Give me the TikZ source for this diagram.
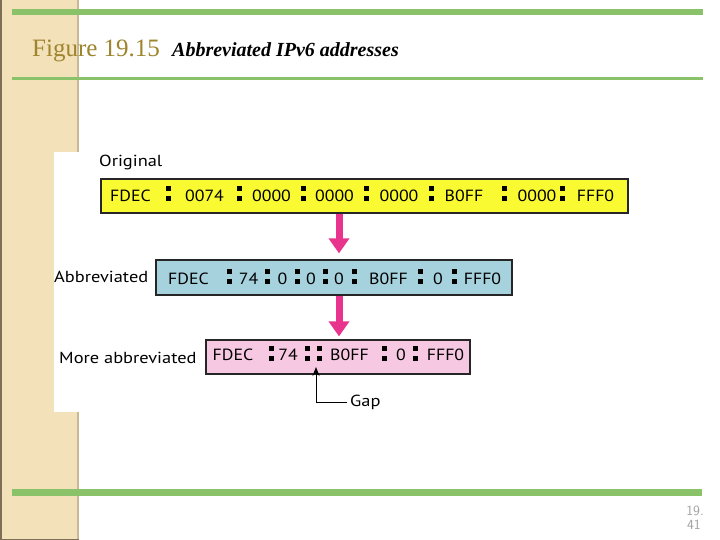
\documentclass[tikz,border=0pt]{standalone}
\usepackage{fontspec}
\setmainfont{Liberation Serif}
\newfontfamily\boxfont[FakeStretch=1.15]{PT Sans}
\newfontfamily\fieldfont[FakeStretch=1.1]{PT Sans}
\usetikzlibrary{arrows.meta}
\definecolor{beige}{RGB}{243,225,186}
\definecolor{beigeedge}{RGB}{200,185,150}
\definecolor{beigedark}{RGB}{125,110,85}
\definecolor{slidegreen}{RGB}{137,194,104}
\definecolor{titlegold}{RGB}{158,132,44}
\definecolor{boxyellow}{RGB}{250,250,50}
\definecolor{boxblue}{RGB}{166,210,222}
\definecolor{boxpink}{RGB}{247,200,226}
\definecolor{arrowpink}{RGB}{232,52,140}
\definecolor{pagegray}{RGB}{160,160,160}
\tikzset{
  addrbox/.style={draw=black!85, line width=1.3pt, inner sep=0pt, anchor=center},
  field/.style={font=\fieldfont\fontsize{16.2}{19}\selectfont, inner sep=0pt, anchor=center},
  lbl/.style={font=\boxfont\fontsize{16}{19}\selectfont, inner sep=0pt, anchor=west},
  colon/.pic={\fill (-2.5,-9.5) rectangle (2.5,-4.5); \fill (-2.5,0.5) rectangle (2.5,5.5);},
  bigarrow/.style={draw=arrowpink, line width=7pt, -{Triangle[width=20pt,length=15pt]}, color=arrowpink},
}
\begin{document}
\begin{tikzpicture}[x=1pt,y=-1pt]
\useasboundingbox (0,0) rectangle (720,540);
% slide background
\fill[white] (0,0) rectangle (720,540);
\fill[beige] (0,0) rectangle (78,540);
\fill[beigeedge] (76.5,0) rectangle (79,540);
\fill[beigedark] (0,0) rectangle (1.5,540);
\fill[beigedark] (0,538.5) rectangle (79,540);
\fill[white] (54,152) rectangle (640,412);
% green rules
\fill[slidegreen] (12,9.5) rectangle (703,15.5);
\fill[slidegreen] (12,77) rectangle (703,80.5);
\fill[slidegreen] (12,489) rectangle (702,495.5);
% title
\node[anchor=base west, inner sep=0pt, text=titlegold, font=\fontsize{25}{29}\selectfont] (fig) at (32,57) {Figure 19.15};
\node[anchor=base west, inner sep=0pt, font=\bfseries\itshape\fontsize{20}{24}\selectfont] (cap) at (172,57) {Abbreviated IPv6 addresses};
% page number
\node[anchor=base east, inner sep=0pt, text=pagegray, font=\sffamily\fontsize{14}{16}\selectfont] (pg1) at (704,515) {19.};
\node[anchor=base east, inner sep=0pt, text=pagegray, font=\sffamily\fontsize{14}{16}\selectfont] (pg2) at (701,529) {41};
% boxes
\node[addrbox, fill=boxyellow, minimum width=527pt, minimum height=34pt] (yellow) at (364.5,196) {};
\node[addrbox, fill=boxblue, minimum width=356pt, minimum height=35pt] (blue) at (334,277.5) {};
\node[addrbox, fill=boxpink, minimum width=264pt, minimum height=34pt] (pink) at (338,357) {};
% labels
\node[lbl] (lorig) at (99,163) {Original};
\node[lbl] (labbr) at (54,277) {Abbreviated};
\node[lbl] (lmore) at (59,358) {More abbreviated};
% yellow fields
\foreach \t/\x [count=\i] in {FDEC/130.5, 0074/204.5, 0000/271.5, 0000/334.5, 0000/399, B0FF/464, 0000/537, FFF0/595.5}
  \node[field] (y\i) at (\x,196) {\t};
\foreach \x in {168.5,239.5,303,366,431,504.5,562.5}
  \pic at (\x,196) {colon};
% blue fields
\foreach \t/\x [count=\i] in {FDEC/188.5, 74/248.5, 0/282.5, 0/311, 0/339, B0FF/388.5, 0/438, FFF0/482.5}
  \node[field] (b\i) at (\x,278.5) {\t};
\foreach \x in {229,267.5,297.5,325.5,354.5,420.5,454.5}
  \pic at (\x,278.5) {colon};
% pink fields
\foreach \t/\x [count=\i] in {FDEC/233, 74/288, B0FF/349.5, 0/401, FFF0/445.5}
  \node[field] (p\i) at (\x,355) {\t};
\foreach \x in {271.5,307.5,319.5,384.5,415.5}
  \pic at (\x,355) {colon};
% big arrows
\coordinate (ax) at (339,0);
\draw[bigarrow, shorten >=6pt] (yellow.south -| ax) -- (blue.north -| ax);
\draw[bigarrow, shorten >=3pt] (blue.south -| ax) -- (pink.north -| ax);
% gap
\node[lbl] (gap) at (350,402) {Gap};
\coordinate (gaptip) at (316,367);
\draw[line width=1pt, -{Stealth[length=9pt,width=7pt]}] ([xshift=-3pt]gap.west) -| (gaptip);
\end{tikzpicture}
\end{document}
